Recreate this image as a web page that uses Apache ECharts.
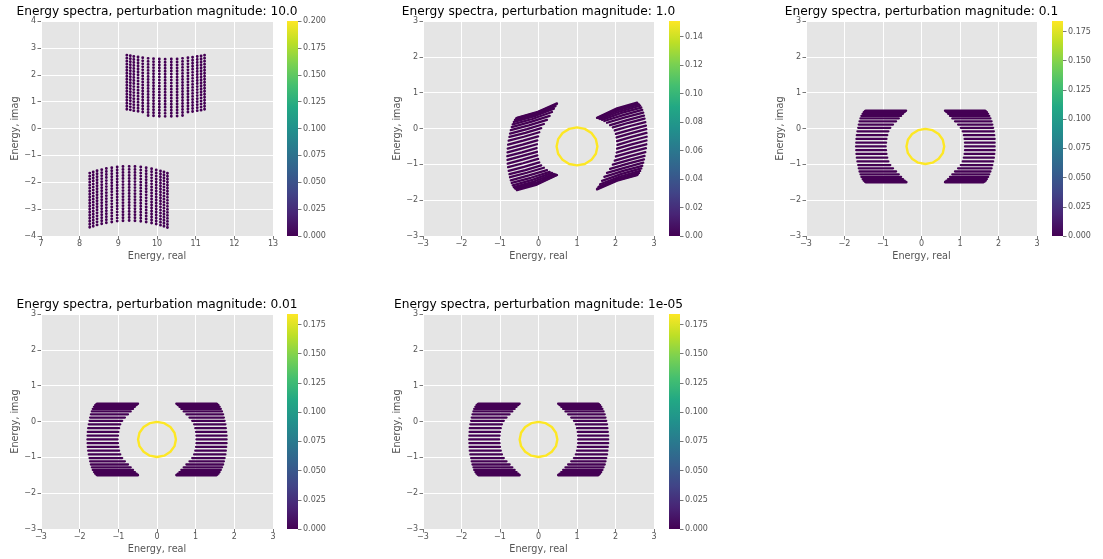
<!DOCTYPE html>
<html>
<head>
<meta charset="utf-8">
<script src="https://cdn.jsdelivr.net/npm/echarts@6/dist/echarts.min.js"></script>
<style>
  html, body { margin: 0; padding: 0; background: #ffffff; }
  #chart { width: 1103px; height: 559px; }
</style>
</head>
<body>
<div id="chart"></div>
<script>
// ---------------- data ----------------
const panelTitles = [
  'Energy spectra, perturbation magnitude: 10.0',
  'Energy spectra, perturbation magnitude: 1.0',
  'Energy spectra, perturbation magnitude: 0.1',
  'Energy spectra, perturbation magnitude: 0.01',
  'Energy spectra, perturbation magnitude: 1e-05'
];

// magnitude 10.0: two blocks of eigenvalue columns (x, top, bottom of each column)
const upperColsX      = [9.22, 9.31, 9.40, 9.51, 9.63, 9.77, 9.91, 10.06, 10.21, 10.37, 10.52, 10.66, 10.80, 10.92, 11.04, 11.14, 11.23];
const upperColsTop    = [2.73, 2.71, 2.68, 2.66, 2.63, 2.61, 2.60, 2.585, 2.58, 2.585, 2.59, 2.61, 2.63, 2.65, 2.68, 2.70, 2.73];
const upperColsBottom = [0.69, 0.64, 0.60, 0.56, 0.52, 0.48, 0.46, 0.44, 0.43, 0.435, 0.45, 0.48, 0.51, 0.55, 0.59, 0.64, 0.68];
const lowerColsX      = [8.26, 8.35, 8.45, 8.57, 8.69, 8.83, 8.97, 9.12, 9.28, 9.43, 9.58, 9.72, 9.86, 9.98, 10.09, 10.18, 10.27];
const lowerColsTop    = [-1.66, -1.62, -1.57, -1.53, -1.49, -1.46, -1.43, -1.415, -1.41, -1.415, -1.435, -1.46, -1.50, -1.54, -1.58, -1.62, -1.665];
const lowerColsBottom = [-3.71, -3.68, -3.65, -3.62, -3.59, -3.57, -3.55, -3.535, -3.53, -3.535, -3.545, -3.56, -3.585, -3.61, -3.64, -3.675, -3.71];

// magnitude 1.0: curved bands, each stripe = outer end, bend, inner end
const m1LeftOuterX = [-0.56, -0.58, -0.61, -0.64, -0.67, -0.695, -0.72, -0.74, -0.755, -0.775, -0.79, -0.80, -0.805, -0.81, -0.805, -0.80, -0.79, -0.775, -0.755, -0.74, -0.72, -0.695, -0.67, -0.64, -0.61, -0.58, -0.56];
const m1LeftOuterY = [0.30, 0.28, 0.24, 0.185, 0.115, 0.04, -0.045, -0.14, -0.235, -0.34, -0.45, -0.56, -0.665, -0.77, -0.875, -0.98, -1.08, -1.18, -1.275, -1.36, -1.445, -1.52, -1.585, -1.635, -1.67, -1.69, -1.72];
const m1LeftBendX  = [-0.04, -0.055, -0.085, -0.12, -0.16, -0.20, -0.25, -0.30, -0.34, -0.38, -0.40, -0.415, -0.42, -0.43, -0.42, -0.415, -0.40, -0.38, -0.34, -0.30, -0.25, -0.20, -0.16, -0.12, -0.085, -0.055, -0.04];
const m1LeftBendY  = [0.455, 0.435, 0.395, 0.34, 0.265, 0.185, 0.09, -0.015, -0.12, -0.23, -0.34, -0.45, -0.555, -0.665, -0.765, -0.87, -0.97, -1.07, -1.16, -1.235, -1.31, -1.375, -1.435, -1.48, -1.52, -1.545, -1.565];
const m1LeftInnerX = [0.48, 0.47, 0.44, 0.40, 0.35, 0.29, 0.22, 0.14, 0.07, 0.02, -0.01, -0.03, -0.04, -0.05, -0.04, -0.03, -0.01, 0.02, 0.07, 0.14, 0.22, 0.29, 0.35, 0.40, 0.44, 0.47, 0.48];
const m1LeftInnerY = [0.70, 0.675, 0.625, 0.555, 0.46, 0.35, 0.24, 0.125, 0.01, -0.105, -0.22, -0.33, -0.44, -0.545, -0.65, -0.75, -0.85, -0.945, -1.03, -1.095, -1.16, -1.21, -1.24, -1.265, -1.285, -1.295, -1.30];

const m1RightInnerX = [1.52, 1.53, 1.56, 1.60, 1.65, 1.71, 1.78, 1.86, 1.93, 1.98, 2.01, 2.03, 2.04, 2.05, 2.04, 2.03, 2.01, 1.98, 1.93, 1.86, 1.78, 1.71, 1.65, 1.60, 1.56, 1.53, 1.52];
const m1RightInnerY = [0.30, 0.295, 0.285, 0.265, 0.24, 0.21, 0.16, 0.095, 0.03, -0.055, -0.15, -0.25, -0.35, -0.455, -0.56, -0.67, -0.78, -0.895, -1.01, -1.125, -1.24, -1.35, -1.46, -1.555, -1.625, -1.675, -1.70];
const m1RightBendX  = [2.04, 2.055, 2.085, 2.12, 2.16, 2.20, 2.25, 2.30, 2.34, 2.38, 2.40, 2.415, 2.42, 2.43, 2.42, 2.415, 2.40, 2.38, 2.34, 2.30, 2.25, 2.20, 2.16, 2.12, 2.085, 2.055, 2.04];
const m1RightBendY  = [0.565, 0.545, 0.52, 0.48, 0.435, 0.375, 0.31, 0.235, 0.16, 0.07, -0.03, -0.13, -0.235, -0.335, -0.445, -0.55, -0.66, -0.77, -0.88, -0.985, -1.09, -1.185, -1.265, -1.34, -1.395, -1.435, -1.455];
const m1RightOuterX = [2.56, 2.58, 2.61, 2.64, 2.67, 2.695, 2.72, 2.74, 2.755, 2.775, 2.79, 2.80, 2.805, 2.81, 2.805, 2.80, 2.79, 2.775, 2.755, 2.74, 2.72, 2.695, 2.67, 2.64, 2.61, 2.58, 2.56];
const m1RightOuterY = [0.72, 0.69, 0.67, 0.635, 0.585, 0.52, 0.445, 0.36, 0.275, 0.18, 0.08, -0.02, -0.125, -0.23, -0.335, -0.44, -0.55, -0.66, -0.765, -0.86, -0.955, -1.04, -1.115, -1.185, -1.24, -1.28, -1.30];

const m1RingX = [1.53, 1.49, 1.375, 1.203, 1.0, 0.797, 0.625, 0.51, 0.47, 0.51, 0.625, 0.797, 1.0, 1.203, 1.375, 1.49, 1.53];
const m1RingY = [-0.5, -0.297, -0.125, -0.01, 0.03, -0.01, -0.125, -0.297, -0.5, -0.703, -0.875, -0.99, -1.03, -0.99, -0.875, -0.703, -0.5];

// magnitudes 0.1, 0.01, 1e-05: flat stripes at these heights
const stripeY = [0.5, 0.485, 0.455, 0.41, 0.35, 0.28, 0.20, 0.11, 0.02, -0.08, -0.185, -0.29, -0.395, -0.5, -0.605, -0.71, -0.815, -0.92, -1.02, -1.11, -1.20, -1.28, -1.35, -1.41, -1.455, -1.485, -1.5];

const m01LeftOuter  = [-1.45, -1.47, -1.50, -1.53, -1.56, -1.585, -1.61, -1.63, -1.645, -1.665, -1.68, -1.69, -1.695, -1.70, -1.695, -1.69, -1.68, -1.665, -1.645, -1.63, -1.61, -1.585, -1.56, -1.53, -1.50, -1.47, -1.45];
const m01LeftInner  = [-0.40, -0.41, -0.44, -0.48, -0.53, -0.59, -0.66, -0.74, -0.81, -0.86, -0.89, -0.91, -0.92, -0.93, -0.92, -0.91, -0.89, -0.86, -0.81, -0.74, -0.66, -0.59, -0.53, -0.48, -0.44, -0.41, -0.39];
const m01RightInner = [0.61, 0.62, 0.65, 0.69, 0.74, 0.80, 0.87, 0.95, 1.02, 1.07, 1.10, 1.12, 1.13, 1.13, 1.13, 1.12, 1.10, 1.07, 1.02, 0.95, 0.87, 0.80, 0.74, 0.69, 0.65, 0.62, 0.61];
const m01RightOuter = [1.65, 1.67, 1.70, 1.73, 1.76, 1.79, 1.82, 1.84, 1.86, 1.88, 1.89, 1.90, 1.90, 1.90, 1.90, 1.89, 1.88, 1.86, 1.84, 1.82, 1.79, 1.76, 1.73, 1.70, 1.67, 1.64, 1.61];
const m01RingX = [0.59, 0.553, 0.446, 0.2875, 0.1, -0.0875, -0.246, -0.353, -0.39, -0.353, -0.246, -0.0875, 0.1, 0.2875, 0.446, 0.553, 0.59];
const m01RingY = [-0.5, -0.3125, -0.154, -0.047, -0.01, -0.047, -0.154, -0.3125, -0.5, -0.6875, -0.846, -0.953, -0.99, -0.953, -0.846, -0.6875, -0.5];

const m001LeftOuter  = [-1.55, -1.57, -1.60, -1.63, -1.66, -1.685, -1.71, -1.73, -1.745, -1.765, -1.78, -1.79, -1.795, -1.80, -1.795, -1.79, -1.78, -1.765, -1.745, -1.73, -1.71, -1.685, -1.66, -1.63, -1.60, -1.57, -1.55];
const m001LeftInner  = [-0.49, -0.50, -0.53, -0.57, -0.62, -0.68, -0.75, -0.83, -0.90, -0.95, -0.98, -1.00, -1.01, -1.02, -1.01, -1.00, -0.98, -0.95, -0.90, -0.83, -0.75, -0.68, -0.62, -0.57, -0.53, -0.50, -0.49];
const m001RightInner = [0.50, 0.51, 0.54, 0.58, 0.63, 0.69, 0.76, 0.84, 0.91, 0.96, 0.99, 1.01, 1.02, 1.02, 1.02, 1.01, 0.99, 0.96, 0.91, 0.84, 0.76, 0.69, 0.63, 0.58, 0.54, 0.51, 0.50];
const m001RightOuter = [1.54, 1.56, 1.59, 1.62, 1.65, 1.68, 1.71, 1.73, 1.75, 1.77, 1.78, 1.79, 1.80, 1.80, 1.80, 1.79, 1.78, 1.77, 1.75, 1.73, 1.71, 1.68, 1.65, 1.62, 1.59, 1.56, 1.54];
const m001RingX = [0.49, 0.453, 0.346, 0.1875, 0, -0.1875, -0.346, -0.453, -0.49, -0.453, -0.346, -0.1875, 0, 0.1875, 0.346, 0.453, 0.49];
const m001RingY = [-0.5, -0.3125, -0.154, -0.047, -0.01, -0.047, -0.154, -0.3125, -0.5, -0.6875, -0.846, -0.953, -0.99, -0.953, -0.846, -0.6875, -0.5];

const m1e5LeftOuter  = [-1.56, -1.58, -1.61, -1.64, -1.67, -1.69, -1.715, -1.735, -1.75, -1.77, -1.785, -1.79, -1.795, -1.80, -1.795, -1.79, -1.785, -1.77, -1.75, -1.735, -1.715, -1.69, -1.67, -1.64, -1.61, -1.58, -1.56];
const m1e5LeftInner  = [-0.49, -0.50, -0.53, -0.57, -0.62, -0.68, -0.75, -0.83, -0.90, -0.95, -0.98, -1.00, -1.01, -1.02, -1.01, -1.00, -0.98, -0.95, -0.90, -0.83, -0.75, -0.68, -0.62, -0.57, -0.53, -0.50, -0.49];
const m1e5RightInner = [0.51, 0.52, 0.55, 0.59, 0.64, 0.70, 0.77, 0.85, 0.92, 0.97, 1.00, 1.02, 1.03, 1.03, 1.03, 1.02, 1.00, 0.97, 0.92, 0.85, 0.77, 0.70, 0.64, 0.59, 0.55, 0.52, 0.51];
const m1e5RightOuter = [1.55, 1.57, 1.60, 1.63, 1.66, 1.69, 1.72, 1.74, 1.76, 1.78, 1.79, 1.80, 1.81, 1.81, 1.81, 1.80, 1.79, 1.78, 1.76, 1.74, 1.72, 1.69, 1.66, 1.63, 1.60, 1.57, 1.55];
const m1e5RingX = [0.49, 0.453, 0.346, 0.1875, 0, -0.1875, -0.346, -0.453, -0.49, -0.453, -0.346, -0.1875, 0, 0.1875, 0.346, 0.453, 0.49];
const m1e5RingY = [-0.5, -0.3125, -0.154, -0.047, -0.01, -0.047, -0.154, -0.3125, -0.5, -0.6875, -0.846, -0.953, -0.99, -0.953, -0.846, -0.6875, -0.5];

// colour bars
const cbMax = [0.2, 0.151, 0.184, 0.184, 0.184];
const cbTicks = [
  [0, 0.025, 0.05, 0.075, 0.1, 0.125, 0.15, 0.175, 0.2],
  [0, 0.02, 0.04, 0.06, 0.08, 0.1, 0.12, 0.14],
  [0, 0.025, 0.05, 0.075, 0.1, 0.125, 0.15, 0.175],
  [0, 0.025, 0.05, 0.075, 0.1, 0.125, 0.15, 0.175],
  [0, 0.025, 0.05, 0.075, 0.1, 0.125, 0.15, 0.175]
];
const cbDigits = [3, 2, 3, 3, 3];

// axis ranges
const xRanges = [[7, 13], [-3, 3], [-3, 3], [-3, 3], [-3, 3]];
const yRanges = [[-4, 4], [-3, 3], [-3, 3], [-3, 3], [-3, 3]];

// ---------------- layout & styling ----------------
const FONT = 'DejaVu Sans';
const GREY = '#555555';
const LOW = '#440154';
const HIGH = '#fde725';
const viridisStops = [
  [0.0, '#440154'], [0.1, '#482475'], [0.2, '#414487'], [0.3, '#355f8d'],
  [0.4, '#2a788e'], [0.5, '#21918c'], [0.6, '#22a884'], [0.7, '#44bf70'],
  [0.8, '#7ad151'], [0.9, '#bddf26'], [1.0, '#fde725']
];
const boxes = [
  { left: 41,  top: 21,  width: 232, height: 215, cbLeft: 287 },
  { left: 423, top: 21,  width: 231, height: 215, cbLeft: 669 },
  { left: 806, top: 21,  width: 231, height: 215, cbLeft: 1052 },
  { left: 41,  top: 314, width: 232, height: 215, cbLeft: 287 },
  { left: 423, top: 314, width: 231, height: 215, cbLeft: 669 }
];
const CB_W = 11;

const minus = v => String(v).replace('-', '\u2212');

function flatStripes(xa, xb, ys) {
  return ys.map((y, i) => ({ coords: [[xa[i], y], [xb[i], y]] }));
}
function bentStripes(xa, ya, xm, ym, xb, yb) {
  return xa.map((_, i) => ({ coords: [[xa[i], ya[i]], [xm[i], ym[i]], [xb[i], yb[i]]] }));
}
function columns(xs, tops, bottoms) {
  return xs.map((x, i) => ({ coords: [[x, tops[i]], [x, bottoms[i]]] }));
}
function ring(xs, ys) {
  return [{ coords: xs.map((x, i) => [x, ys[i]]) }];
}

const bandStyle = { color: LOW, width: 2.3, opacity: 1, cap: 'round', join: 'round' };
const dotStyle = { color: LOW, width: 2.9, opacity: 1, cap: 'round', type: [0.01, 3.0] };
const ringStyle = { color: HIGH, width: 2.4, opacity: 1, cap: 'round', join: 'round' };

// mark sets per panel
const panelMarks = [
  [
    { data: columns(upperColsX, upperColsTop, upperColsBottom), style: dotStyle },
    { data: columns(lowerColsX, lowerColsTop, lowerColsBottom), style: dotStyle }
  ],
  [
    { data: bentStripes(m1LeftOuterX, m1LeftOuterY, m1LeftBendX, m1LeftBendY, m1LeftInnerX, m1LeftInnerY), style: bandStyle },
    { data: bentStripes(m1RightInnerX, m1RightInnerY, m1RightBendX, m1RightBendY, m1RightOuterX, m1RightOuterY), style: bandStyle },
    { data: ring(m1RingX, m1RingY), style: ringStyle }
  ],
  [
    { data: flatStripes(m01LeftOuter, m01LeftInner, stripeY), style: bandStyle },
    { data: flatStripes(m01RightInner, m01RightOuter, stripeY), style: bandStyle },
    { data: ring(m01RingX, m01RingY), style: ringStyle }
  ],
  [
    { data: flatStripes(m001LeftOuter, m001LeftInner, stripeY), style: bandStyle },
    { data: flatStripes(m001RightInner, m001RightOuter, stripeY), style: bandStyle },
    { data: ring(m001RingX, m001RingY), style: ringStyle }
  ],
  [
    { data: flatStripes(m1e5LeftOuter, m1e5LeftInner, stripeY), style: bandStyle },
    { data: flatStripes(m1e5RightInner, m1e5RightOuter, stripeY), style: bandStyle },
    { data: ring(m1e5RingX, m1e5RingY), style: ringStyle }
  ]
];

const grid = [], xAxis = [], yAxis = [], series = [], title = [];

boxes.forEach((b, p) => {
  const gi = grid.length;
  grid.push({
    left: b.left, top: b.top, width: b.width, height: b.height,
    show: true, backgroundColor: '#E5E5E5', borderWidth: 0, outerBoundsMode: 'none'
  });
  const tickCommon = {
    axisLine: { show: false, onZero: false },
    axisTick: { show: true, length: 3.5, lineStyle: { color: GREY, width: 0.8 } },
    splitLine: { show: true, lineStyle: { color: '#ffffff', width: 1 } },
    nameTextStyle: { color: GREY, fontSize: 9.7, fontFamily: FONT }
  };
  xAxis.push(Object.assign({
    type: 'value', gridIndex: gi, position: 'bottom', min: xRanges[p][0], max: xRanges[p][1], interval: 1,
    name: 'Energy, real', nameLocation: 'middle', nameGap: 15,
    axisLabel: { color: GREY, fontSize: 8, fontFamily: FONT, margin: 4, formatter: minus }
  }, tickCommon));
  yAxis.push(Object.assign({
    type: 'value', gridIndex: gi, position: 'left', min: yRanges[p][0], max: yRanges[p][1], interval: 1,
    name: 'Energy, imag', nameLocation: 'middle', nameGap: 21,
    axisLabel: { color: GREY, fontSize: 8, fontFamily: FONT, margin: 5, formatter: minus }
  }, tickCommon));
  const axisIdx = xAxis.length - 1;

  panelMarks[p].forEach(m => {
    series.push({
      type: 'lines', coordinateSystem: 'cartesian2d', polyline: true,
      xAxisIndex: axisIdx, yAxisIndex: axisIdx, silent: true,
      lineStyle: m.style, data: m.data
    });
  });

  title.push({
    text: panelTitles[p], left: b.left + b.width / 2, top: b.top - 15, textAlign: 'center', padding: 0,
    textStyle: { fontSize: 12.2, fontWeight: 'normal', color: '#000000', fontFamily: FONT }
  });

  // colour bar: a single bar spanning 0..max, filled with the viridis ramp
  const ci = grid.length;
  grid.push({ left: b.cbLeft, top: b.top, width: CB_W, height: b.height, outerBoundsMode: 'none' });
  xAxis.push({ type: 'category', gridIndex: ci, data: [''], show: false, boundaryGap: true });
  const digits = cbDigits[p];
  yAxis.push({
    type: 'value', gridIndex: ci, position: 'right', min: 0, max: cbMax[p],
    axisLine: { show: false, onZero: false },
    splitLine: { show: false },
    axisTick: { show: true, length: 3.5, customValues: cbTicks[p], lineStyle: { color: GREY, width: 0.8 } },
    axisLabel: {
      color: GREY, fontSize: 8, fontFamily: FONT, margin: 5, customValues: cbTicks[p],
      formatter: v => Number(v).toFixed(digits)
    }
  });
  const cbIdx = xAxis.length - 1;
  series.push({
    type: 'bar', xAxisIndex: cbIdx, yAxisIndex: cbIdx, barWidth: '100%', silent: true,
    data: [cbMax[p]],
    itemStyle: {
      color: new echarts.graphic.LinearGradient(0, 1, 0, 0,
        viridisStops.map(s => ({ offset: s[0], color: s[1] })))
    }
  });
});

const chart = echarts.init(document.getElementById('chart'), null, { renderer: 'canvas' });
chart.setOption({
  animation: false,
  backgroundColor: '#ffffff',
  textStyle: { fontFamily: FONT },
  title, grid, xAxis, yAxis, series
});
</script>
</body>
</html>
